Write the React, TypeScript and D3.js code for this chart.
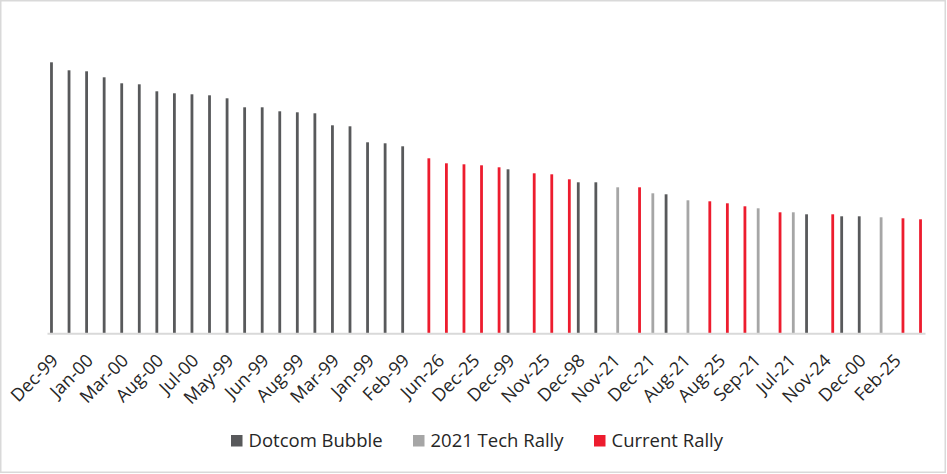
import { useEffect, useRef } from "react";
import * as d3 from "d3";

// Catégories (mois des pics), dans l'ordre du graphique
const categories = [
  "Dec-99", "Feb-00", "Jan-00", "Nov-99", "Mar-00", "Apr-00", "Aug-00", "Sep-00",
  "Jul-00", "May-00", "May-99", "Jul-99", "Jun-99", "Oct-99", "Aug-99", "Sep-99",
  "Mar-99", "Apr-99", "Jan-99", "Jun-00", "Feb-99", "Jan-26", "Jun-26", "May-26",
  "Dec-25", "Oct-25", "Dec-99", "Sep-25", "Nov-25", "Jul-25", "Dec-98", "Nov-98",
  "Nov-21", "Apr-26", "Dec-21", "Oct-98", "Aug-21", "Mar-26", "Aug-25", "Feb-26",
  "Sep-21", "Jan-25", "Jul-21", "Jan-01", "Nov-24", "Nov-00", "Dec-00", "Oct-21",
  "Feb-25", "Dec-24",
];

const n = null;

const dotcomBubble = [
  27.1, 26.3, 26.2, 25.6, 25.0, 24.9, 24.2, 24.0, 23.9, 23.8,
  23.5, 22.6, 22.6, 22.2, 22.1, 22.0, 20.8, 20.7, 19.1, 19.0,
  18.7, n, n, n, n, n, 16.4, n, n, n,
  15.1, 15.1, n, n, n, 13.9, n, n, n, n,
  n, n, n, 11.9, n, 11.7, 11.7, n, n, n,
];

const techRally2021 = [
  n, n, n, n, n, n, n, n, n, n,
  n, n, n, n, n, n, n, n, n, n,
  n, n, n, n, n, n, n, n, n, n,
  n, n, 14.6, n, 14.0, n, 13.3, n, n, n,
  12.5, n, 12.1, n, n, n, n, 11.6, n, n,
];

const currentRally = [
  n, n, n, n, n, n, n, n, n, n,
  n, n, n, n, n, n, n, n, n, n,
  n, 17.5, 17.0, 16.9, 16.8, 16.6, n, 16.0, 15.9, 15.4,
  n, n, n, 14.6, n, n, n, 13.2, 13.0, 12.7,
  n, 12.1, n, n, 11.9, n, n, n, 11.5, 11.4,
];

const seriesNames = ["Dotcom Bubble", "2021 Tech Rally", "Current Rally"];
const seriesValues = [dotcomBubble, techRally2021, currentRally];
const seriesColors = ["#58595b", "#a6a6a6", "#ed1c2e"];

const WIDTH = 947;
const HEIGHT = 474;
const FONT = "'Open Sans', 'DejaVu Sans', sans-serif";

export default function App() {
  const svgRef = useRef<SVGSVGElement>(null);

  useEffect(() => {
    if (!svgRef.current) return;
    const svg = d3.select(svgRef.current);
    svg.selectAll("*").remove();

    // Cadre du graphique
    svg
      .append("rect")
      .attr("x", 0.75)
      .attr("y", 0.75)
      .attr("width", WIDTH - 2.5)
      .attr("height", HEIGHT - 2.5)
      .attr("fill", "#fff")
      .attr("stroke", "#d9d9d9")
      .attr("stroke-width", 1.5);

    const plot = { left: 47, right: 925, top: 33.3, bottom: 333.3 };
    const idx = categories.map((_, i) => i);

    // Échelles
    const x = d3.scaleBand<number>().domain(idx).range([plot.left, plot.right]);
    const xInner = d3
      .scaleBand<number>()
      .domain([0, 1, 2])
      .range([0, x.bandwidth()])
      .paddingInner(0.35)
      .paddingOuter(0.715);
    const y = d3.scaleLinear().domain([0, 30]).range([plot.bottom, plot.top]);

    // Barres
    seriesValues.forEach((vals, s) => {
      svg
        .append("g")
        .selectAll("rect")
        .data(vals.map((v, i) => ({ v, i })).filter((d) => d.v != null))
        .enter()
        .append("rect")
        .attr("x", (d) => (x(d.i) || 0) + (xInner(s) || 0))
        .attr("y", (d) => y(d.v as number))
        .attr("width", xInner.bandwidth())
        .attr("height", (d) => y(0) - y(d.v as number))
        .attr("fill", seriesColors[s]);
    });

    // Axe X (une étiquette sur deux)
    const axis = svg
      .append("g")
      .attr("transform", `translate(0,${plot.bottom})`)
      .call(
        d3
          .axisBottom(x)
          .tickSize(0)
          .tickSizeOuter(0)
          .tickFormat((i) => (i % 2 === 0 ? categories[i] : ""))
      );
    axis.select(".domain").attr("stroke", "#d9d9d9").attr("stroke-width", 2);
    axis
      .selectAll("text")
      .attr("y", 0)
      .attr("dy", 0)
      .attr("transform", "translate(3.5,28.5) rotate(-45)")
      .style("text-anchor", "end")
      .style("font-family", FONT)
      .style("font-size", "18px")
      .style("fill", "#262626");

    // Légende
    const legendX = [231, 413, 594];
    const legend = svg.append("g").attr("transform", "translate(0,435)");
    seriesNames.forEach((name, s) => {
      legend
        .append("rect")
        .attr("x", legendX[s])
        .attr("y", 0)
        .attr("width", 11.5)
        .attr("height", 11.5)
        .attr("fill", seriesColors[s]);
      legend
        .append("text")
        .attr("x", legendX[s] + 17.5)
        .attr("y", 12)
        .style("font-family", FONT)
        .style("font-size", "18.5px")
        .style("fill", "#262626")
        .text(name);
    });
  }, []);

  return (
    <div style={{ position: "fixed", left: 0, top: 0 }}>
      <svg ref={svgRef} width={WIDTH} height={HEIGHT} style={{ display: "block" }} />
    </div>
  );
}
